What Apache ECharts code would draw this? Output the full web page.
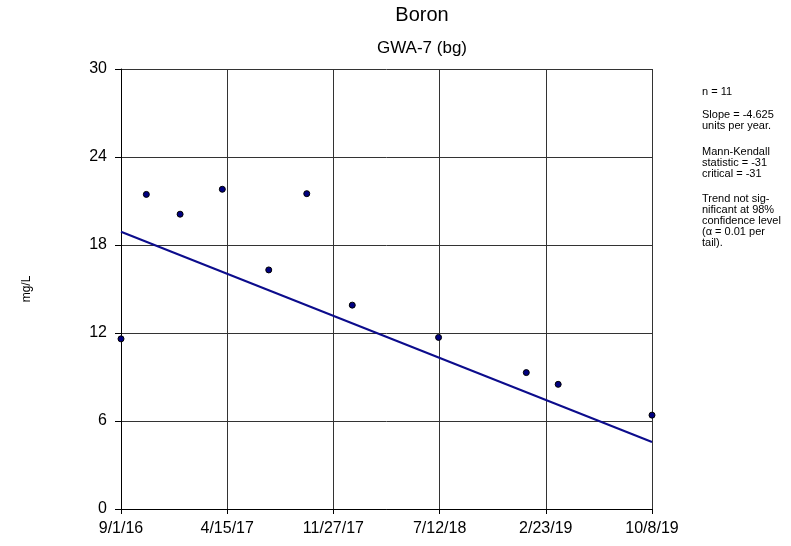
<!DOCTYPE html>
<html>
<head>
<meta charset="utf-8">
<script src="https://cdn.jsdelivr.net/npm/echarts@6/dist/echarts.min.js"></script>
<style>
  html, body { margin: 0; padding: 0; background: #fff; }
  #chart { width: 791px; height: 546px; }
</style>
</head>
<body>
<div id="chart"></div>
<script>
// sample dates and boron values (mg/L)
var sampleDates = ['2016-09-01', '2016-10-25', '2017-01-05', '2017-04-05', '2017-07-13',
                   '2017-10-02', '2018-01-07', '2018-07-10', '2019-01-13', '2019-03-22', '2019-10-08'];
var boronValues = [11.6, 21.45, 20.1, 21.8, 16.3, 21.5, 13.9, 11.7, 9.3, 8.5, 6.4];

var yTicks = [0, 6, 12, 18, 24, 30];
var xTickLabels = ['9/1/16', '4/15/17', '11/27/17', '7/12/18', '2/23/19', '10/8/19'];
var xStartDate = '2016-09-01';
var xEndDate = '2019-10-08';

var trendStartValue = 18.9;
var slopePerYear = -4.625;

var statsBlocks = [
  ['n = 11'],
  ['Slope = -4.625', 'units per year.'],
  ['Mann-Kendall', 'statistic = -31', 'critical = -31'],
  ['Trend not sig-', 'nificant at 98%', 'confidence level', '(\u03b1 = 0.01 per', 'tail).']
];

function toDays(s) {
  var p = s.split('-');
  var t0 = xStartDate.split('-');
  var a = Date.UTC(+p[0], +p[1] - 1, +p[2]);
  var b = Date.UTC(+t0[0], +t0[1] - 1, +t0[2]);
  return Math.round((a - b) / 86400000);
}

var xMax = toDays(xEndDate);
var xStep = xMax / (xTickLabels.length - 1);
var points = sampleDates.map(function (d, i) { return [toDays(d), boronValues[i]]; });
var trendEnd = trendStartValue + slopePerYear * xMax / 365.25;
var trend = [[0, trendStartValue], [xMax, trendEnd]];

var font = 'Arial, "Liberation Sans", sans-serif';

// right-hand statistics text
var blockTops = [86, 109, 146, 193];
var statsGraphics = statsBlocks.map(function (lines, i) {
  return {
    type: 'text',
    left: 702,
    top: blockTops[i],
    style: { text: lines.join('\n'), font: '11px ' + font, lineHeight: 11, fill: '#000' }
  };
});

var myChart = echarts.init(document.getElementById('chart'));
var option = {
  backgroundColor: '#fff',
  animation: false,
  grid: { left: 121, right: 139, top: 69, bottom: 37, containLabel: false },
  xAxis: {
    type: 'value',
    min: 0,
    max: xMax,
    interval: xStep,
    axisLine: { lineStyle: { color: '#000', width: 1 } },
    axisTick: { length: 5, lineStyle: { color: '#000' } },
    axisLabel: { color: '#000', fontSize: 16, fontFamily: font, margin: 12,
      formatter: function (v) { return xTickLabels[Math.round(v / xStep)] || ''; } },
    splitLine: { show: true, lineStyle: { color: '#333', width: 1 } }
  },
  yAxis: {
    type: 'value',
    min: yTicks[0],
    max: yTicks[yTicks.length - 1],
    interval: yTicks[1] - yTicks[0],
    name: 'mg/L',
    nameLocation: 'middle',
    nameRotate: 90,
    nameGap: 88,
    nameTextStyle: { fontSize: 12, color: '#000', fontFamily: font },
    axisLine: { show: true, lineStyle: { color: '#000', width: 1 } },
    axisTick: { show: true, length: 6, lineStyle: { color: '#000' } },
    axisLabel: { color: '#000', fontSize: 16, fontFamily: font, margin: 14 },
    splitLine: { show: true, lineStyle: { color: '#333', width: 1 } }
  },
  graphic: [
    { type: 'text', x: 422, y: 15.5,
      style: { text: 'Boron', font: '20px ' + font, fill: '#000', textAlign: 'center', textVerticalAlign: 'middle' } },
    { type: 'text', x: 422, y: 48.5,
      style: { text: 'GWA-7 (bg)', font: '17px ' + font, fill: '#000', textAlign: 'center', textVerticalAlign: 'middle' } }
  ].concat(statsGraphics),
  series: [
    {
      name: 'Trend',
      type: 'line',
      data: trend,
      symbol: 'none',
      lineStyle: { color: '#0c0c8c', width: 2 },
      z: 2
    },
    {
      name: 'Boron',
      type: 'scatter',
      data: points,
      symbolSize: 6,
      clip: false,
      itemStyle: { color: '#000080', borderColor: '#000', borderWidth: 1, opacity: 1 },
      z: 3
    }
  ]
};
myChart.setOption(option);
</script>
</body>
</html>
